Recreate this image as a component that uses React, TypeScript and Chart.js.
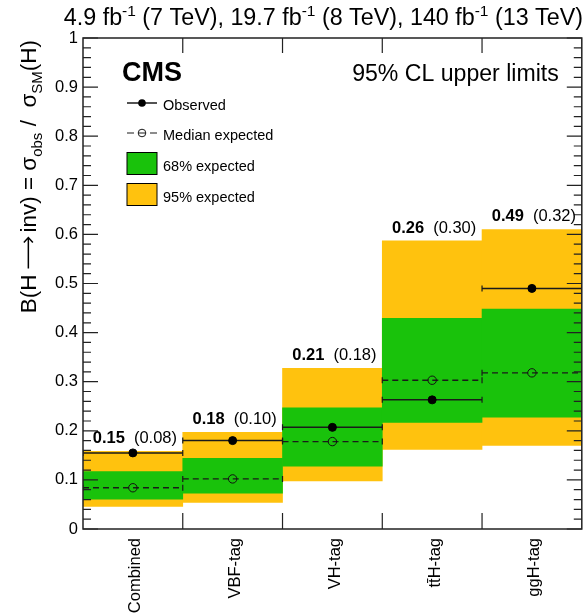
import React, { useEffect, useRef } from 'react';
import { Chart, registerables } from 'chart.js';
Chart.register(...registerables);

const categories = ['Combined', 'VBF-tag', 'VH-tag', 't\u0074\u0304H-tag', 'ggH-tag'];
const observed = [0.155, 0.18, 0.207, 0.263, 0.49];
const expected = [0.084, 0.102, 0.178, 0.303, 0.318];
const band68Lo = [0.061, 0.073, 0.128, 0.217, 0.228];
const band68Hi = [0.117, 0.144, 0.247, 0.429, 0.448];
const band95Lo = [0.046, 0.054, 0.098, 0.162, 0.17];
const band95Hi = [0.158, 0.197, 0.327, 0.587, 0.61];
const obsLabels = ['0.15', '0.18', '0.21', '0.26', '0.49'];
const expLabels = ['(0.08)', '(0.10)', '(0.18)', '(0.30)', '(0.32)'];
const yTicks = [0, 0.1, 0.2, 0.3, 0.4, 0.5, 0.6, 0.7, 0.8, 0.9, 1];

const FONT = '"Liberation Sans", Arial, Helvetica, sans-serif';
const YELLOW = '#FFC20E';
const GREEN = '#19C20B';
const LINE = '#1a1a1a';
const ARROW_W = 42;

function segments(vals: number[]) {
  const d: { x: number; y: number | null }[] = [];
  vals.forEach((v, i) => {
    d.push({ x: i, y: v });
    d.push({ x: i + 1, y: v });
    d.push({ x: i + 1, y: null });
  });
  return d;
}

// part shift: 0 normal, -1 superscript, 1 subscript, 2 long right arrow
function partWidth(ctx: CanvasRenderingContext2D, t: string, s: number, base: number, small: number) {
  if (s === 2) return ARROW_W;
  ctx.font = `${s === -1 || s === 1 ? small : base}px ${FONT}`;
  return ctx.measureText(t).width;
}
function drawParts(ctx: CanvasRenderingContext2D, parts: [string, number][], x: number, y: number, base: number, small: number) {
  let cx = x;
  for (const [t, s] of parts) {
    const w = partWidth(ctx, t, s, base, small);
    const dy = s === -1 ? -base * 0.4 : s === 1 ? base * 0.28 : 0;
    if (s === 2) {
      const my = y - base * 0.34;
      ctx.save();
      ctx.strokeStyle = ctx.fillStyle as string;
      ctx.lineWidth = 1.5;
      ctx.beginPath();
      ctx.moveTo(cx + 6, my); ctx.lineTo(cx + w - 5, my);
      ctx.moveTo(cx + w - 10, my - 4.5); ctx.lineTo(cx + w - 5, my); ctx.lineTo(cx + w - 10, my + 4.5);
      ctx.stroke();
      ctx.restore();
    } else {
      ctx.fillText(t, cx, y + dy);
    }
    cx += w;
  }
  return cx - x;
}
function measureParts(ctx: CanvasRenderingContext2D, parts: [string, number][], base: number, small: number) {
  let w = 0;
  for (const [t, s] of parts) w += partWidth(ctx, t, s, base, small);
  return w;
}

const decorPlugin = {
  id: 'decor',
  afterDatasetsDraw(chart: any) {
    const { ctx, chartArea: a, scales } = chart;
    const xs = scales.x, ys = scales.y;
    ctx.save();
    ctx.strokeStyle = '#222';
    ctx.lineWidth = 1.2;
    for (let k = 0; k <= 50; k++) {
      const v = k / 50;
      const py = ys.getPixelForValue(v);
      const len = k % 5 === 0 ? 15 : 8;
      ctx.beginPath();
      ctx.moveTo(a.left, py); ctx.lineTo(a.left + len, py);
      ctx.moveTo(a.right, py); ctx.lineTo(a.right - len, py);
      ctx.stroke();
    }
    for (let i = 1; i < categories.length; i++) {
      const px = xs.getPixelForValue(i);
      ctx.beginPath();
      ctx.moveTo(px, a.bottom); ctx.lineTo(px, a.bottom - 16);
      ctx.moveTo(px, a.top); ctx.lineTo(px, a.top + 15);
      ctx.stroke();
    }
    ctx.lineWidth = 1.5;
    ctx.strokeRect(a.left, a.top, a.right - a.left, a.bottom - a.top);
    ctx.restore();
  },
  afterDraw(chart: any) {
    const { ctx, chartArea: a, scales } = chart;
    const xs = scales.x, ys = scales.y;
    ctx.save();
    ctx.fillStyle = '#000';
    ctx.textBaseline = 'alphabetic';
    categories.forEach((_, i) => {
      const cx = xs.getPixelForValue(i + 0.5);
      const py = ys.getPixelForValue(band95Hi[i]) - 8;
      ctx.font = `bold 16.5px ${FONT}`;
      const w1 = ctx.measureText(obsLabels[i]).width;
      ctx.font = `16.5px ${FONT}`;
      const gap = 9;
      const w2 = ctx.measureText(expLabels[i]).width;
      const start = cx + 2 - (w1 + gap + w2) / 2;
      ctx.textAlign = 'left';
      ctx.font = `bold 16.5px ${FONT}`;
      ctx.fillText(obsLabels[i], start, py);
      ctx.font = `16.5px ${FONT}`;
      ctx.fillText(expLabels[i], start + w1 + gap, py);
    });
    ctx.textAlign = 'left';
    ctx.font = `bold 27px ${FONT}`;
    ctx.fillText('CMS', a.left + 39, 81);
    ctx.textAlign = 'right';
    ctx.font = `23.1px ${FONT}`;
    ctx.fillText('95% CL upper limits', a.right - 23, 81);
    const lx0 = a.left + 44, lx1 = a.left + 74, lxc = a.left + 59, tx = a.left + 80;
    ctx.textAlign = 'left';
    ctx.font = `14.5px ${FONT}`;
    ctx.strokeStyle = LINE;
    ctx.lineWidth = 1.5;
    ctx.beginPath(); ctx.moveTo(lx0, 103); ctx.lineTo(lx1, 103); ctx.stroke();
    ctx.beginPath(); ctx.arc(lxc, 103, 3.8, 0, Math.PI * 2); ctx.fillStyle = '#000'; ctx.fill();
    ctx.fillText('Observed', tx, 110);
    ctx.lineWidth = 1.2;
    ctx.beginPath(); ctx.moveTo(lx0, 133); ctx.lineTo(lx0 + 7, 133); ctx.moveTo(lx1 - 7, 133); ctx.lineTo(lx1, 133);
    ctx.moveTo(lxc - 3.8, 133); ctx.lineTo(lxc + 3.8, 133); ctx.stroke();
    ctx.lineWidth = 1;
    ctx.beginPath(); ctx.arc(lxc, 133, 3.8, 0, Math.PI * 2); ctx.stroke();
    ctx.fillText('Median expected', tx, 140);
    ctx.fillStyle = GREEN;
    ctx.fillRect(lx0, 152.5, 30, 22);
    ctx.strokeStyle = '#000';
    ctx.strokeRect(lx0, 152.5, 30, 22);
    ctx.fillStyle = YELLOW;
    ctx.fillRect(lx0, 183.5, 30, 22);
    ctx.strokeRect(lx0, 183.5, 30, 22);
    ctx.fillStyle = '#000';
    ctx.fillText('68% expected', tx, 170.5);
    ctx.fillText('95% expected', tx, 201.5);
    ctx.textAlign = 'left';
    const hdr: [string, number][] = [
      ['4.9 fb', 0], ['-1', -1], [' (7 TeV), 19.7 fb', 0], ['-1', -1], [' (8 TeV), 140 fb', 0], ['-1', -1], [' (13 TeV)', 0],
    ];
    const hw = measureParts(ctx, hdr, 23.3, 15.5);
    drawParts(ctx, hdr, 583 - hw, 25, 23.3, 15.5);
    const yt: [string, number][] = [
      ['B(H', 0], ['\u2192', 2], ['inv) = ', 0], ['\u03C3', 0], ['obs', 1], [' / ', 0], [' \u03C3', 0], ['SM', 1], ['(H)', 0],
    ];
    const yw = measureParts(ctx, yt, 22.5, 15);
    ctx.translate(36, 40);
    ctx.rotate(-Math.PI / 2);
    drawParts(ctx, yt, -yw, 0, 22.5, 15);
    ctx.restore();
  },
};

export default function App() {
  const ref = useRef<HTMLCanvasElement>(null);
  useEffect(() => {
    document.body.style.margin = '0';
    const centers = categories.map((_, i) => i + 0.5);
    const chart = new Chart(ref.current!, {
      type: 'bar',
      data: {
        datasets: [
          {
            type: 'scatter',
            data: centers.map((x, i) => ({ x, y: observed[i] })),
            pointRadius: 4,
            pointBackgroundColor: '#000',
            pointBorderColor: '#000',
            pointBorderWidth: 1,
            order: 0,
          } as any,
          {
            type: 'line',
            data: segments(observed),
            borderColor: LINE,
            borderWidth: 1.5,
            spanGaps: false,
            pointStyle: 'line',
            pointRotation: 90,
            pointRadius: 3,
            pointBorderColor: LINE,
            pointBorderWidth: 1.2,
            order: 1,
          } as any,
          {
            type: 'scatter',
            data: centers.map((x, i) => ({ x, y: expected[i] })),
            pointRadius: 4.2,
            pointBackgroundColor: 'rgba(0,0,0,0)',
            pointBorderColor: '#111',
            pointBorderWidth: 1,
            order: 2,
          } as any,
          {
            type: 'line',
            data: segments(expected),
            borderColor: LINE,
            borderWidth: 1.3,
            borderDash: [6, 4],
            spanGaps: false,
            pointStyle: 'line',
            pointRotation: 90,
            pointRadius: 3,
            pointBorderColor: LINE,
            pointBorderWidth: 1.2,
            order: 3,
          } as any,
          {
            type: 'bar',
            data: centers.map((x, i) => ({ x, y: [band68Lo[i], band68Hi[i]] })),
            backgroundColor: GREEN,
            borderWidth: 0,
            barPercentage: 1,
            categoryPercentage: 1,
            grouped: false,
            order: 4,
          } as any,
          {
            type: 'bar',
            data: centers.map((x, i) => ({ x, y: [band95Lo[i], band95Hi[i]] })),
            backgroundColor: YELLOW,
            borderWidth: 0,
            barPercentage: 1,
            categoryPercentage: 1,
            grouped: false,
            order: 5,
          } as any,
        ],
      },
      options: {
        animation: false,
        responsive: true,
        maintainAspectRatio: false,
        layout: { padding: { left: 0, right: 2, top: 38, bottom: 0 } },
        plugins: { legend: { display: false }, tooltip: { enabled: false }, title: { display: false } },
        scales: {
          x: {
            type: 'linear',
            min: 0,
            max: categories.length,
            offset: false,
            grid: { display: false, drawTicks: false },
            border: { display: false },
            afterBuildTicks: (scale: any) => {
              scale.ticks = centers.map((v) => ({ value: v }));
            },
            afterFit: (scale: any) => { scale.height = 87; },
            ticks: {
              autoSkip: false,
              minRotation: 90,
              maxRotation: 90,
              padding: 9,
              labelOffset: 3,
              color: '#000',
              font: { family: FONT, size: 16.5 },
              callback: (v: any) => categories[Math.floor(Number(v))] ?? '',
            },
          },
          y: {
            type: 'linear',
            min: 0,
            max: 1,
            grid: { display: false, drawTicks: false },
            border: { display: false },
            afterBuildTicks: (scale: any) => {
              scale.ticks = yTicks.map((v) => ({ value: v }));
            },
            afterFit: (scale: any) => { scale.width = 83; },
            ticks: {
              padding: 5,
              color: '#000',
              font: { family: FONT, size: 16.5 },
              callback: (v: any) => String(Math.round(Number(v) * 10) / 10),
            },
          },
        },
      } as any,
      plugins: [decorPlugin],
    });
    return () => chart.destroy();
  }, []);
  return (
    <div style={{ position: 'absolute', left: 0, top: 0, width: 587, height: 616 }}>
      <canvas ref={ref} />
    </div>
  );
}
